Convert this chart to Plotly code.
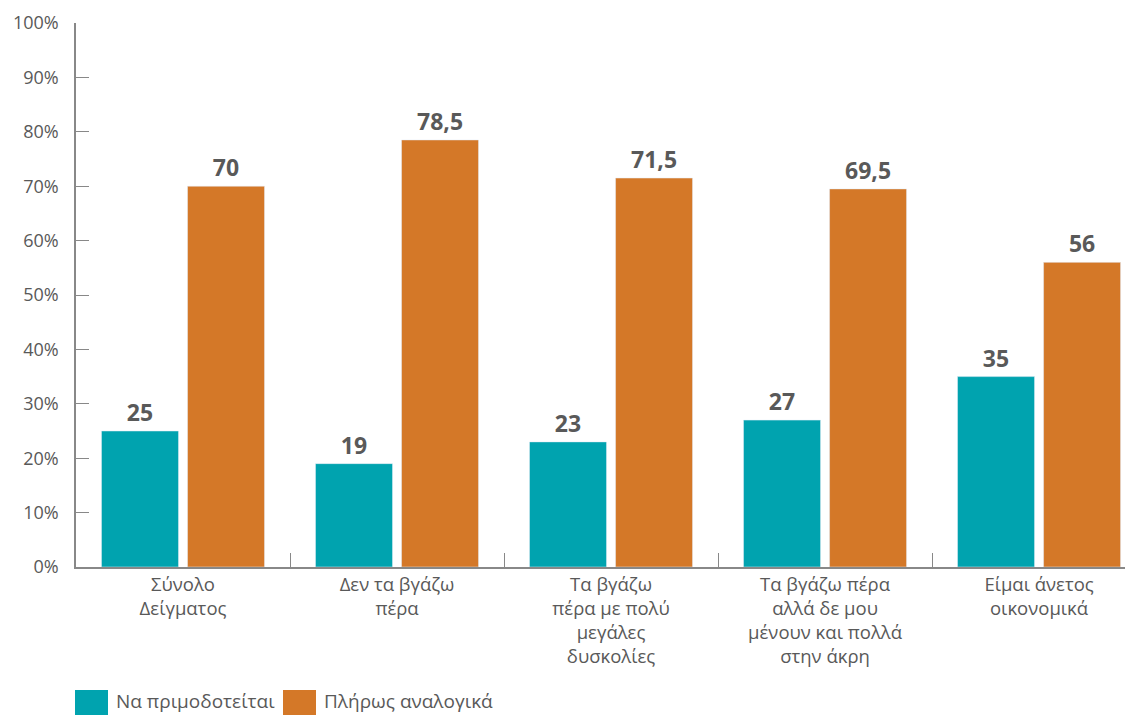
import plotly.graph_objects as go

categories = ["Σύνολο<br>Δείγματος", "Δεν τα βγάζω<br>πέρα", "Τα βγάζω<br>πέρα με πολύ<br>μεγάλες<br>δυσκολίες",
              "Τα βγάζω πέρα<br>αλλά δε μου<br>μένουν και πολλά<br>στην άκρη", "Είμαι άνετος<br>οικονομικά"]
series_names = ["Να πριμοδοτείται", "Πλήρως αναλογικά"]
teal_values = [25, 19, 23, 27, 35]
orange_values = [70, 78.5, 71.5, 69.5, 56]
colors = ["#00A3AF", "#D47828"]
ytick_vals = [0, 10, 20, 30, 40, 50, 60, 70, 80, 90, 100]
ytick_text = [f"{v}%" for v in ytick_vals]

FONT = "Open Sans"
GRAY = "#595959"

# page body has an 8px margin; figure is sized so the plot lands where the reference has it
W, H = 1125, 707
ML, MT, MR, MB = 68, 15, 0, 148
PW, PH = W - ML - MR, H - MT - MB


def fmt(v):
    return (f"{v:g}").replace(".", ",")


fig = go.Figure()
for name, vals, col in zip(series_names, [teal_values, orange_values], colors):
    fig.add_trace(go.Bar(
        x=categories, y=vals, name=name, marker_color=col,
        text=[fmt(v) for v in vals], textposition="outside",
        textfont=dict(family=FONT, size=23, color=GRAY, weight="bold"),
        cliponaxis=False, showlegend=False,
    ))

fig.update_layout(
    width=W, height=H,
    margin=dict(l=ML, r=MR, t=MT, b=MB),
    plot_bgcolor="white", paper_bgcolor="white",
    barmode="group", bargap=0.196, bargroupgap=0.105,
    font=dict(family=FONT, color=GRAY, size=18),
    xaxis=dict(
        range=[-0.5, 4.439], showline=True, linecolor="#888888", linewidth=1.5,
        ticks="inside", tickson="boundaries", ticklen=14, tickcolor="#888888",
        tickfont=dict(size=18.5, color=GRAY), showgrid=False,
    ),
    yaxis=dict(
        range=[0, 100], tickvals=ytick_vals, ticktext=ytick_text,
        showline=True, linecolor="#888888", linewidth=1.5,
        ticks="inside", ticklen=13, tickcolor="#888888",
        tickfont=dict(size=18, color=GRAY), ticklabelstandoff=12,
        showgrid=False, zeroline=False,
    ),
)

# legend drawn manually at bottom-left (figure pixel coords -> paper coords)
legend_x = [67, 275]
for name, col, lx in zip(series_names, colors, legend_x):
    fig.add_shape(type="rect", xref="paper", yref="paper",
                  x0=(lx - ML) / PW, x1=(lx + 33 - ML) / PW,
                  y0=(MT + PH - H) / PH, y1=(MT + PH - 682) / PH,
                  fillcolor=col, line_width=0, layer="above")
    fig.add_annotation(text=name, xref="paper", yref="paper",
                       x=(lx + 39 - ML) / PW, y=(MT + PH - 693) / PH,
                       xanchor="left", yanchor="middle", showarrow=False,
                       font=dict(family=FONT, size=19, color=GRAY))

fig.write_html("out.html")
